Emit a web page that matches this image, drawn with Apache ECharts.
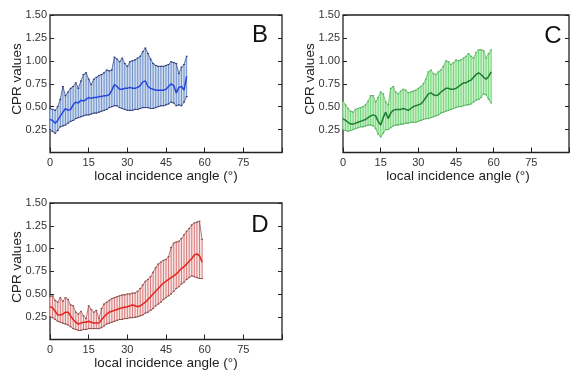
<!DOCTYPE html>
<html><head><meta charset="utf-8">
<script src="https://cdn.jsdelivr.net/npm/echarts@6/dist/echarts.min.js"></script>
<style>html,body{margin:0;padding:0;background:#fff}#c{width:572px;height:371px}</style>
</head><body><div id="c"></div>
<script>
// ---- data ----
const xTicks = [0, 15, 30, 45, 60, 75, 90];
const yTicks = [0.25, 0.50, 0.75, 1.00, 1.25, 1.50];

const angB = [0,1,2,3,4,5,6,7,8,9,10,11,12,13,14,15,16,17,18,19,20,21,22,23,24,25,26,27,28,29,30,31,32,33,34,35,36,37,38,39,40,41,42,43,44,45,46,47,48,49,50,51,52,53];
const meanB = [0.36,0.35,0.32,0.35,0.40,0.44,0.48,0.46,0.47,0.52,0.55,0.54,0.57,0.56,0.58,0.60,0.59,0.60,0.60,0.61,0.61,0.62,0.62,0.63,0.68,0.74,0.72,0.69,0.69,0.70,0.70,0.71,0.70,0.70,0.71,0.73,0.77,0.78,0.72,0.70,0.69,0.68,0.68,0.68,0.68,0.69,0.72,0.75,0.73,0.65,0.71,0.72,0.68,0.83];
const upB = [0.48,0.47,0.46,0.50,0.58,0.72,0.62,0.66,0.70,0.72,0.76,0.70,0.78,0.85,0.87,0.80,0.74,0.80,0.82,0.84,0.85,0.87,0.90,0.89,0.90,1.04,1.02,0.99,1.03,0.97,0.94,0.99,1.00,1.01,1.03,1.05,1.10,1.14,1.08,1.02,0.97,0.95,0.94,0.94,0.94,0.95,0.96,0.99,0.98,0.97,0.86,0.93,0.96,1.05];
const loB = [0.25,0.23,0.21,0.24,0.28,0.29,0.30,0.32,0.34,0.35,0.37,0.38,0.39,0.40,0.41,0.41,0.42,0.43,0.43,0.44,0.45,0.46,0.47,0.49,0.50,0.51,0.51,0.49,0.48,0.47,0.46,0.46,0.46,0.47,0.47,0.48,0.49,0.49,0.49,0.48,0.48,0.49,0.50,0.51,0.51,0.52,0.53,0.55,0.54,0.51,0.52,0.51,0.55,0.61];

const angC = [0,1,2,3,4,5,6,7,8,9,10,11,12,13,14,15,16,17,18,19,20,21,22,23,24,25,26,27,28,29,30,31,32,33,34,35,36,37,38,39,40,41,42,43,44,45,46,47,48,49,50,51,52,53,54,55,56,57,58,59];
const meanC = [0.37,0.35,0.33,0.31,0.31,0.32,0.33,0.34,0.35,0.36,0.38,0.40,0.41,0.40,0.34,0.30,0.38,0.44,0.37,0.43,0.46,0.47,0.47,0.47,0.48,0.47,0.46,0.48,0.50,0.51,0.52,0.53,0.56,0.60,0.64,0.65,0.63,0.62,0.63,0.66,0.68,0.70,0.70,0.69,0.69,0.70,0.72,0.74,0.76,0.76,0.78,0.79,0.82,0.85,0.87,0.85,0.82,0.80,0.83,0.88];
const upC = [0.56,0.52,0.48,0.45,0.44,0.47,0.48,0.49,0.50,0.52,0.56,0.62,0.62,0.55,0.60,0.66,0.64,0.55,0.52,0.70,0.72,0.66,0.64,0.67,0.69,0.68,0.65,0.66,0.67,0.68,0.70,0.72,0.75,0.80,0.88,0.90,0.86,0.85,0.88,0.90,0.94,1.00,0.99,0.96,0.98,1.01,1.00,1.01,1.03,1.05,1.08,1.05,1.03,1.09,1.12,1.12,1.11,1.03,1.08,1.12];
const loC = [0.25,0.24,0.23,0.24,0.25,0.26,0.27,0.28,0.28,0.29,0.30,0.30,0.29,0.26,0.20,0.17,0.21,0.25,0.25,0.27,0.29,0.30,0.30,0.31,0.31,0.32,0.32,0.33,0.33,0.33,0.34,0.35,0.36,0.37,0.37,0.38,0.39,0.40,0.41,0.43,0.44,0.45,0.46,0.47,0.48,0.49,0.50,0.50,0.51,0.52,0.52,0.53,0.55,0.57,0.58,0.60,0.64,0.63,0.58,0.54];

const angD = [0,1,2,3,4,5,6,7,8,9,10,11,12,13,14,15,16,17,18,19,20,21,22,23,24,25,26,27,28,29,30,31,32,33,34,35,36,37,38,39,40,41,42,43,44,45,46,47,48,49,50,51,52,53,54,55,56,57,58,59];
const meanD = [0.36,0.35,0.31,0.27,0.27,0.28,0.30,0.30,0.26,0.22,0.19,0.17,0.18,0.19,0.19,0.20,0.19,0.18,0.18,0.18,0.22,0.25,0.28,0.30,0.31,0.32,0.33,0.34,0.35,0.355,0.36,0.37,0.38,0.37,0.36,0.37,0.39,0.41,0.44,0.47,0.50,0.53,0.56,0.59,0.62,0.64,0.66,0.68,0.70,0.72,0.75,0.78,0.80,0.83,0.86,0.89,0.93,0.94,0.92,0.85];
const upD = [0.47,0.48,0.43,0.41,0.46,0.42,0.46,0.44,0.38,0.37,0.30,0.28,0.31,0.26,0.23,0.37,0.33,0.30,0.32,0.23,0.34,0.39,0.41,0.43,0.45,0.46,0.47,0.48,0.49,0.49,0.50,0.50,0.51,0.51,0.53,0.56,0.60,0.64,0.66,0.69,0.74,0.79,0.83,0.85,0.87,0.88,0.91,1.01,1.06,1.07,1.08,1.11,1.15,1.19,1.22,1.26,1.28,1.29,1.30,1.10];
const loD = [0.25,0.24,0.22,0.20,0.19,0.18,0.17,0.16,0.14,0.12,0.11,0.10,0.10,0.11,0.11,0.12,0.12,0.12,0.12,0.12,0.13,0.15,0.17,0.18,0.19,0.20,0.21,0.22,0.22,0.23,0.23,0.24,0.24,0.245,0.25,0.26,0.27,0.29,0.30,0.32,0.34,0.37,0.39,0.41,0.44,0.46,0.48,0.50,0.53,0.56,0.58,0.61,0.63,0.66,0.68,0.70,0.69,0.68,0.67,0.67];

// ---- chart ----
const FONT = "'Liberation Sans', Arial, sans-serif";
const panels = [
  {ang: angB, mean: meanB, up: upB, lo: loB, grid: {left: 50, top: 15, width: 232, height: 137.5},
   fill: '#cddcf0', bar: '#7190c8', env: '#2c3a78', line: '#2446de', letter: 'B', lx: 260, ly: 35},
  {ang: angC, mean: meanC, up: upC, lo: loC, grid: {left: 343, top: 15, width: 230, height: 137.5},
   fill: '#c9f1c6', bar: '#72d47c', env: '#55b05e', line: '#1b7b31', letter: 'C', lx: 553, ly: 36},
  {ang: angD, mean: meanD, up: upD, lo: loD, grid: {left: 50, top: 203, width: 232, height: 136.5},
   fill: '#fae3e3', bar: '#d77b7b', env: '#8a4a4a', line: '#e5231d', letter: 'D', lx: 260, ly: 225}
];

const grids = [], xAxes = [], yAxes = [], series = [], graphics = [];
panels.forEach((p, i) => {
  grids.push(Object.assign({show: true, borderColor: '#222', borderWidth: 1.3, backgroundColor: 'transparent'}, p.grid));
  xAxes.push({type: 'value', gridIndex: i, min: xTicks[0], max: xTicks[xTicks.length - 1], interval: 15,
    axisLine: {show: false}, splitLine: {show: false},
    axisTick: {inside: true, length: 5, lineStyle: {color: '#222', width: 1}},
    axisLabel: {margin: 5, color: '#333', fontSize: 11, fontFamily: FONT,
      formatter: v => (xTicks.indexOf(v) >= 0 && v !== 90) ? String(v) : ''}});
  const yBase = {type: 'value', gridIndex: i, min: 0, max: 1.5, interval: 0.25,
    axisLine: {show: false}, splitLine: {show: false},
    axisTick: {inside: true, length: 4, lineStyle: {color: '#222', width: 1}}};
  yAxes.push(Object.assign({}, yBase, {position: 'left',
    axisLabel: {margin: 3, color: '#333', fontSize: 11, fontFamily: FONT,
      formatter: v => yTicks.some(t => Math.abs(t - v) < 1e-9) ? v.toFixed(2) : ''}}));
  yAxes.push(Object.assign({}, yBase, {position: 'right', axisLabel: {show: false}}));
  const yi = i * 2;
  const pairs = arr => p.ang.map((a, k) => [a, arr[k]]);
  const n = p.ang.length;
  // band + error bars
  series.push({type: 'custom', xAxisIndex: i, yAxisIndex: yi, z: 2, silent: true,
    data: p.ang.map((a, k) => [a, p.lo[k], p.up[k]]),
    renderItem: (params, api) => {
      const k = params.dataIndex;
      const a = api.coord([api.value(0), api.value(1)]);
      const b = api.coord([api.value(0), api.value(2)]);
      const children = [];
      if (k < n - 1) {
        const c = api.coord([p.ang[k + 1], p.up[k + 1]]);
        const d = api.coord([p.ang[k + 1], p.lo[k + 1]]);
        children.push({type: 'polygon', z2: 0, shape: {points: [a, b, c, d]},
          style: {fill: p.fill, stroke: p.fill, lineWidth: 0.6}});
      }
      children.push({type: 'line', z2: 5, shape: {x1: a[0], y1: a[1], x2: b[0], y2: b[1]}, style: {stroke: p.bar, lineWidth: 1}});
      children.push({type: 'line', z2: 5, shape: {x1: a[0] - 1, y1: a[1], x2: a[0] + 1, y2: a[1]}, style: {stroke: p.env, lineWidth: 1}});
      children.push({type: 'line', z2: 5, shape: {x1: b[0] - 1, y1: b[1], x2: b[0] + 1, y2: b[1]}, style: {stroke: p.env, lineWidth: 1}});
      return {type: 'group', children: children};
    }});
  [p.up, p.lo].forEach(arr => series.push({type: 'line', xAxisIndex: i, yAxisIndex: yi, data: pairs(arr),
    symbol: 'none', lineStyle: {color: p.env, width: 0.8, opacity: 0.85}, silent: true, z: 3}));
  series.push({type: 'line', xAxisIndex: i, yAxisIndex: yi, data: pairs(p.mean),
    symbol: 'none', lineStyle: {color: p.line, width: 1.5}, silent: true, z: 4});
  const g = p.grid;
  graphics.push({type: 'text', x: p.lx, y: p.ly, style: {text: p.letter, font: '24px ' + FONT, fill: '#111', align: 'center', verticalAlign: 'middle'}});
  graphics.push({type: 'text', x: g.left + g.width / 2, y: g.top + g.height + 23.5,
    style: {text: 'local incidence angle (°)', font: '13.5px ' + FONT, fill: '#222', align: 'center', verticalAlign: 'middle'}});
  graphics.push({type: 'text', x: g.left - 33, y: g.top + 64, rotation: Math.PI / 2,
    style: {text: 'CPR values', font: '13.5px ' + FONT, fill: '#222', align: 'center', verticalAlign: 'middle'}});
});

const chart = echarts.init(document.getElementById('c'), null, {renderer: 'canvas'});
chart.setOption({animation: false, backgroundColor: '#fff', grid: grids, xAxis: xAxes, yAxis: yAxes, series: series, graphic: graphics});
</script></body></html>
